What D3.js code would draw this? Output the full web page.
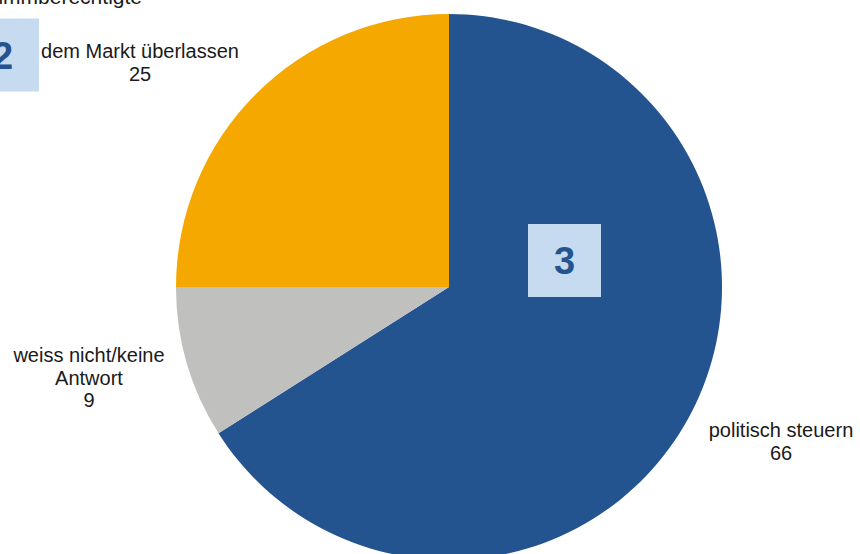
<!DOCTYPE html>
<html>
<head>
<meta charset="utf-8">
<script src="https://cdn.jsdelivr.net/npm/d3@7"></script>
<style>
  html, body { margin: 0; padding: 0; background: #fff; }
  svg { display: block; }
  text { font-family: "Liberation Sans", Arial, sans-serif; }
</style>
</head>
<body>
<svg id="chart" width="860" height="554"></svg>
<script>
// Shares of respondents (in %)
const categories = ["politisch steuern", "weiss nicht/keine Antwort", "dem Markt überlassen"];
const values = [66, 9, 25];
const colors = ["#23548F", "#C0C0BF", "#F5A800"];
// Label lines per slice (category text wrapped, then value)
const labelLines = [["politisch steuern", "66"], ["weiss nicht/keine", "Antwort", "9"], ["dem Markt überlassen", "25"]];
const labelPos = [[781, 437], [89, 362], [140, 58]];
const caption = "% Stimmberechtigte";
const badges = [{ text: "2", cx: 2.5, cy: 55 }, { text: "3", cx: 564.5, cy: 260.5 }];

const svg = d3.select("#chart");
const cx = 449, cy = 287, r = 273;

const pie = d3.pie().sort(null).value(d => d)(values);
const arc = d3.arc().innerRadius(0).outerRadius(r);

svg.append("g")
  .attr("transform", `translate(${cx},${cy})`)
  .selectAll("path")
  .data(pie)
  .join("path")
  .attr("d", arc)
  .attr("fill", (d, i) => colors[i]);

// Slice labels
labelLines.forEach((lines, i) => {
  const t = svg.append("text")
    .attr("text-anchor", "middle")
    .attr("font-size", 20)
    .attr("fill", "#1a1a1a");
  lines.forEach((line, j) => {
    t.append("tspan")
      .attr("x", labelPos[i][0])
      .attr("y", labelPos[i][1] + j * 22.5)
      .text(line);
  });
});

// Caption (partly outside the top edge)
svg.append("text")
  .attr("x", 142).attr("y", 4)
  .attr("text-anchor", "end")
  .attr("font-size", 21)
  .attr("fill", "#1a1a1a")
  .text(caption);

// Numbered badges
const b = svg.selectAll("g.badge").data(badges).join("g").attr("class", "badge");
b.append("rect")
  .attr("x", d => d.cx - 36.5).attr("y", d => d.cy - 36.5)
  .attr("width", 73).attr("height", 73)
  .attr("fill", "#C6DAF0");
b.append("text")
  .attr("x", d => d.cx).attr("y", d => d.cy)
  .attr("dy", "0.36em")
  .attr("text-anchor", "middle")
  .attr("font-size", 38)
  .attr("font-weight", "bold")
  .attr("fill", "#23548F")
  .text(d => d.text);
</script>
</body>
</html>
